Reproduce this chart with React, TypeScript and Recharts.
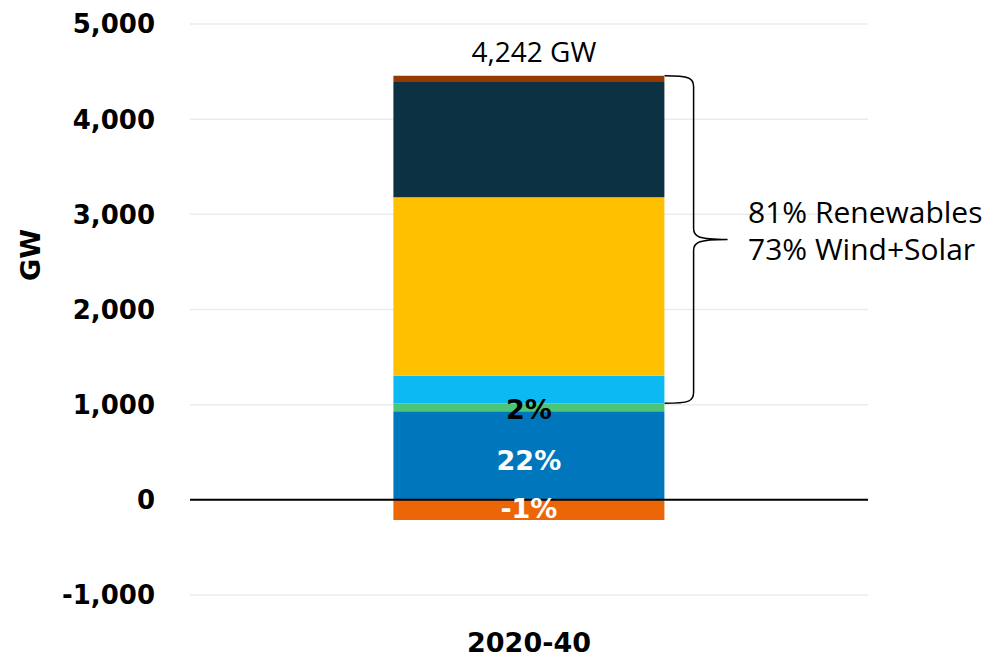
import React from 'react';
import { BarChart, Bar, XAxis, YAxis, CartesianGrid, ReferenceLine, LabelList } from 'recharts';

const categories = ['2020-40'];
const fossilValues = [-213];
const hydroValues = [930];
const otherCleanValues = [85];
const otherRenewValues = [290];
const solarValues = [1875];
const windValues = [1210];
const otherValues = [65];
const yTicks = [-1000, 0, 1000, 2000, 3000, 4000, 5000];
const totalLabel = '4,242 GW';
const fossilLabel = '-1%';
const hydroLabel = '22%';
const otherCleanLabel = '2%';
const annotationLines = ['81% Renewables', '73% Wind+Solar'];
const yAxisTitle = 'GW';

const data = categories.map((c, i) => ({
  name: c,
  fossil: fossilValues[i],
  hydro: hydroValues[i],
  otherClean: otherCleanValues[i],
  otherRenew: otherRenewValues[i],
  solar: solarValues[i],
  wind: windValues[i],
  other: otherValues[i],
}));

const W = 989;
const H = 657;
const M = { top: 24, right: 121, bottom: 0, left: 0 };
const Y_W = 190;
const X_H = 62;
const DOMAIN: [number, number] = [-1000, 5000];
const plotTop = M.top;
const plotBottom = H - M.bottom - X_H;
const plotLeft = M.left + Y_W;
const plotRight = W - M.right;
const gapPct = 0.3;
const yPix = (v: number) => plotTop + ((DOMAIN[1] - v) / (DOMAIN[1] - DOMAIN[0])) * (plotBottom - plotTop);

const BOLD = '"DejaVu Sans", sans-serif';
const REG = '"Open Sans", sans-serif';

const fmt = (v: number) => v.toLocaleString('en-US');

const YTick = (props: any) => {
  const { x, y, payload } = props;
  return (
    <text x={x - 35} y={y} dy="0.36em" textAnchor="end" fontFamily={BOLD} fontWeight="bold" fontSize={26} fill="#000">
      {fmt(payload.value)}
    </text>
  );
};

const XTick = (props: any) => {
  const { x, y, payload } = props;
  return (
    <text x={x} y={y + 57} textAnchor="middle" fontFamily={BOLD} fontWeight="bold" fontSize={27} fill="#000">
      {payload.value}
    </text>
  );
};

const makeCenterLabel = (text: string, color: string, shift: number) => (props: any) => {
  const { x, y, width, height } = props;
  return (
    <text x={x + width / 2} y={y + height / 2 + shift} dy="0.36em" textAnchor="middle" fontFamily={BOLD} fontWeight="bold" fontSize={27} fill={color}>
      {text}
    </text>
  );
};

const TopLabel = (props: any) => {
  const { x, y, width } = props;
  return (
    <text x={x + width / 2 + 5} y={y - 14} textAnchor="middle" fontFamily={REG} fontSize={28} fill="#000">
      {totalLabel}
    </text>
  );
};

export default function App() {
  const barRight = plotLeft + (plotRight - plotLeft) * (1 - gapPct);
  const top = yPix(hydroValues[0] + otherCleanValues[0] + otherRenewValues[0] + solarValues[0] + windValues[0] + otherValues[0]);
  const bottom = yPix(hydroValues[0] + otherCleanValues[0]);
  const mid = (top + bottom) / 2;
  const bx = barRight + 29;
  const tip = bx + 34;
  const brace = `M${barRight},${top} C${bx - 4},${top} ${bx},${top + 2} ${bx},${top + 11} L${bx},${mid - 11} C${bx},${mid - 3} ${bx + 4},${mid} ${tip},${mid} M${tip},${mid} C${bx + 4},${mid} ${bx},${mid + 3} ${bx},${mid + 11} L${bx},${bottom - 11} C${bx},${bottom - 2} ${bx - 4},${bottom} ${barRight},${bottom}`;
  return (
    <div style={{ position: 'absolute', left: 0, top: 0, width: W, height: H, background: '#fff' }}>
      <BarChart width={W} height={H} data={data} margin={M} stackOffset="sign" barCategoryGap={`${gapPct * 100}%`}>
        <CartesianGrid vertical={false} stroke="#ebebeb" strokeWidth={1.5} />
        <XAxis dataKey="name" height={X_H} axisLine={false} tickLine={false} tickSize={0} tickMargin={0} tick={<XTick />} />
        <YAxis
          width={Y_W}
          domain={DOMAIN}
          ticks={yTicks}
          type="number"
          allowDataOverflow
          axisLine={false}
          tickLine={false}
          tickSize={0}
          tickMargin={0}
          tick={<YTick />}
        />
        <Bar dataKey="fossil" stackId="a" fill="#EC6608" isAnimationActive={false}>
          <LabelList content={makeCenterLabel(fossilLabel, '#fff', -2)} />
        </Bar>
        <Bar dataKey="hydro" stackId="a" fill="#0077BD" isAnimationActive={false}>
          <LabelList content={makeCenterLabel(hydroLabel, '#fff', 5)} />
        </Bar>
        <Bar dataKey="otherClean" stackId="a" fill="#4BC677" isAnimationActive={false}>
          <LabelList content={makeCenterLabel(otherCleanLabel, '#000', 2)} />
        </Bar>
        <Bar dataKey="otherRenew" stackId="a" fill="#0DB9F2" isAnimationActive={false} />
        <Bar dataKey="solar" stackId="a" fill="#FFC000" isAnimationActive={false} />
        <Bar dataKey="wind" stackId="a" fill="#0B3142" isAnimationActive={false} />
        <Bar dataKey="other" stackId="a" fill="#943C00" isAnimationActive={false}>
          <LabelList content={TopLabel} />
        </Bar>
        <ReferenceLine y={0} stroke="#000" strokeWidth={2} />
      </BarChart>
      <svg width={W} height={H} style={{ position: 'absolute', left: 0, top: 0, pointerEvents: 'none' }}>
        <text x={30} y={255} dy="0.36em" transform="rotate(-90 30 255)" textAnchor="middle" fontFamily={BOLD} fontWeight="bold" fontSize={27} fill="#000">{yAxisTitle}</text>
        <path d={brace} fill="none" stroke="#000" strokeWidth={1.5} />
        <text x={748} y={mid - 27} dy="0.36em" fontFamily={REG} fontSize={30} fill="#000">{annotationLines[0]}</text>
        <text x={748} y={mid + 10} dy="0.36em" fontFamily={REG} fontSize={30} fill="#000">{annotationLines[1]}</text>
      </svg>
    </div>
  );
}
